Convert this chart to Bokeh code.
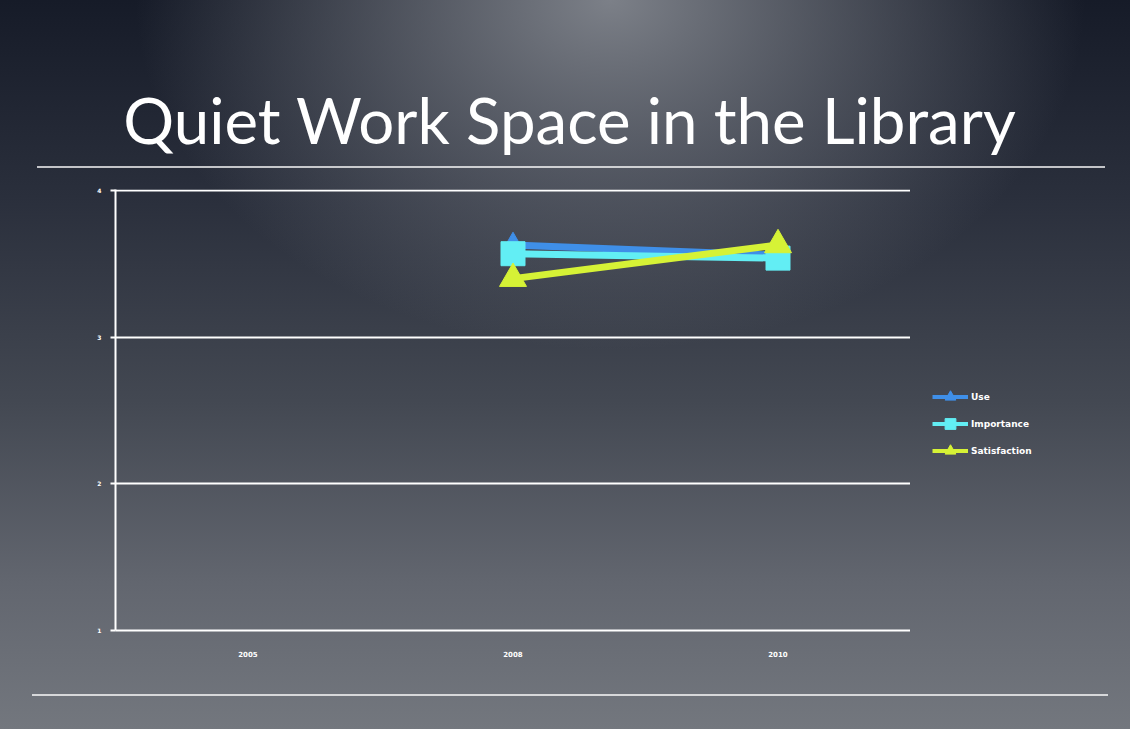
from bokeh.plotting import figure
from bokeh.models import FactorRange, Range1d, FixedTicker, Legend, LegendItem, Div
from bokeh.layouts import column, row
from bokeh.embed import file_html
from bokeh.resources import INLINE

# ---- data ----
years = ["2005", "2008", "2010"]
series_years = ["2008", "2010"]
use_vals = [3.63, 3.56]
importance_vals = [3.57, 3.54]
satisfaction_vals = [3.40, 3.63]
y_ticks = [1, 2, 3, 4]
series_names = ["Use", "Importance", "Satisfaction"]
title_text = "Quiet Work Space in the Library"

USE_C = "#3f8fe8"
IMP_C = "#62eef4"
SAT_C = "#d6f236"

TITLE_H = 170
BODY_H = 729 - TITLE_H

series = [
    (series_names[0], use_vals, USE_C, "triangle", 22),
    (series_names[1], importance_vals, IMP_C, "square", 24),
    (series_names[2], satisfaction_vals, SAT_C, "triangle", 27),
]

# ---- main chart ----
p = figure(
    width=910, height=BODY_H,
    x_range=FactorRange(*years, range_padding=0),
    y_range=Range1d(1, 4.008),
    output_backend="svg", toolbar_location=None,
    min_border_left=115, min_border_right=0,
    min_border_top=19, min_border_bottom=99,
)
p.background_fill_color = None
p.border_fill_color = None
p.outline_line_color = None

p.yaxis.ticker = FixedTicker(ticks=y_ticks)
p.ygrid.ticker = FixedTicker(ticks=y_ticks)
p.xgrid.visible = False
p.ygrid.grid_line_color = "white"
p.ygrid.grid_line_width = 2

for ax in (p.xaxis, p.yaxis):
    ax.axis_line_color = "white"
    ax.axis_line_width = 2
    ax.minor_tick_line_color = None
    ax.major_label_text_color = "white"
    ax.major_label_text_font = "DejaVu Sans"
    ax.major_label_text_font_style = "bold"

p.yaxis.major_tick_line_color = "white"
p.yaxis.major_tick_line_width = 2
p.yaxis.major_tick_in = 0
p.yaxis.major_tick_out = 5
p.yaxis.major_label_text_font_size = "6px"
p.yaxis.major_label_standoff = 9

p.xaxis.major_tick_line_color = None
p.xaxis.major_tick_in = 0
p.xaxis.major_tick_out = 0
p.xaxis.major_label_text_font_size = "7px"
p.xaxis.major_label_standoff = 20

for name, vals, col, marker, size in series:
    p.line(x=series_years, y=vals, line_color=col, line_width=7)
    p.scatter(x=series_years, y=vals, marker=marker, size=size,
              fill_color=col, line_color=col)

# ---- legend panel (its own small svg figure) ----
pl = figure(
    width=220, height=BODY_H,
    x_range=FactorRange(*years), y_range=Range1d(1, 4),
    output_backend="svg", toolbar_location=None,
    x_axis_location=None, y_axis_location=None,
    min_border=0,
)
pl.min_border_left = pl.min_border_right = pl.min_border_top = pl.min_border_bottom = 0
pl.background_fill_color = None
pl.border_fill_color = None
pl.outline_line_color = None
pl.grid.visible = False

items = []
for name, vals, col, marker, size in series:
    r1 = pl.line(x=series_years, y=vals, line_color=col, line_width=4, visible=False)
    r2 = pl.scatter(x=series_years, y=vals, marker=marker, size=size,
                    fill_color=col, line_color=col, visible=False)
    items.append(LegendItem(label=name, renderers=[r1, r2]))

lg = Legend(items=items, location=(22, 166))
lg.background_fill_alpha = 0
lg.border_line_color = None
lg.inactive_fill_alpha = 0
lg.padding = 0
lg.margin = 0
lg.spacing = 0
lg.glyph_width = 36
lg.glyph_height = 27
lg.label_height = 20
lg.label_standoff = 3
lg.label_text_color = "white"
lg.label_text_font = "DejaVu Sans"
lg.label_text_font_size = "9px"
lg.label_text_font_style = "bold"
pl.add_layout(lg)

# ---- title ----
title_div = Div(
    text=(f'<div style="font-family: Lato; font-size: 63.6px; color: white; '
          f'text-align: center; line-height: 1; white-space: nowrap; box-sizing: border-box; '
          f'padding-top: 88px; padding-left: 9px; width: 1130px;">{title_text}</div>'),
    width=1130, height=TITLE_H, margin=0,
)

line_css = "rgba(255,255,255,0.72)"
bg = (
    f"linear-gradient({line_css}, {line_css}) 37px 166px / 1068px 2px no-repeat, "
    f"linear-gradient({line_css}, {line_css}) 32px 694px / 1076px 2px no-repeat, "
    "radial-gradient(ellipse 42% 48% at 54% 0%, rgba(124,128,136,1) 0%, rgba(124,128,136,0.55) 45%, rgba(124,128,136,0) 100%), "
    "linear-gradient(to bottom, #161b28 0%, #2a2f3c 27%, #434852 55%, #62666f 80%, #73777e 100%)"
)

layout = column(title_div, row(p, pl, spacing=0), spacing=0,
                styles={"background": bg})

open("out.html", "w").write(file_html(layout, INLINE))
